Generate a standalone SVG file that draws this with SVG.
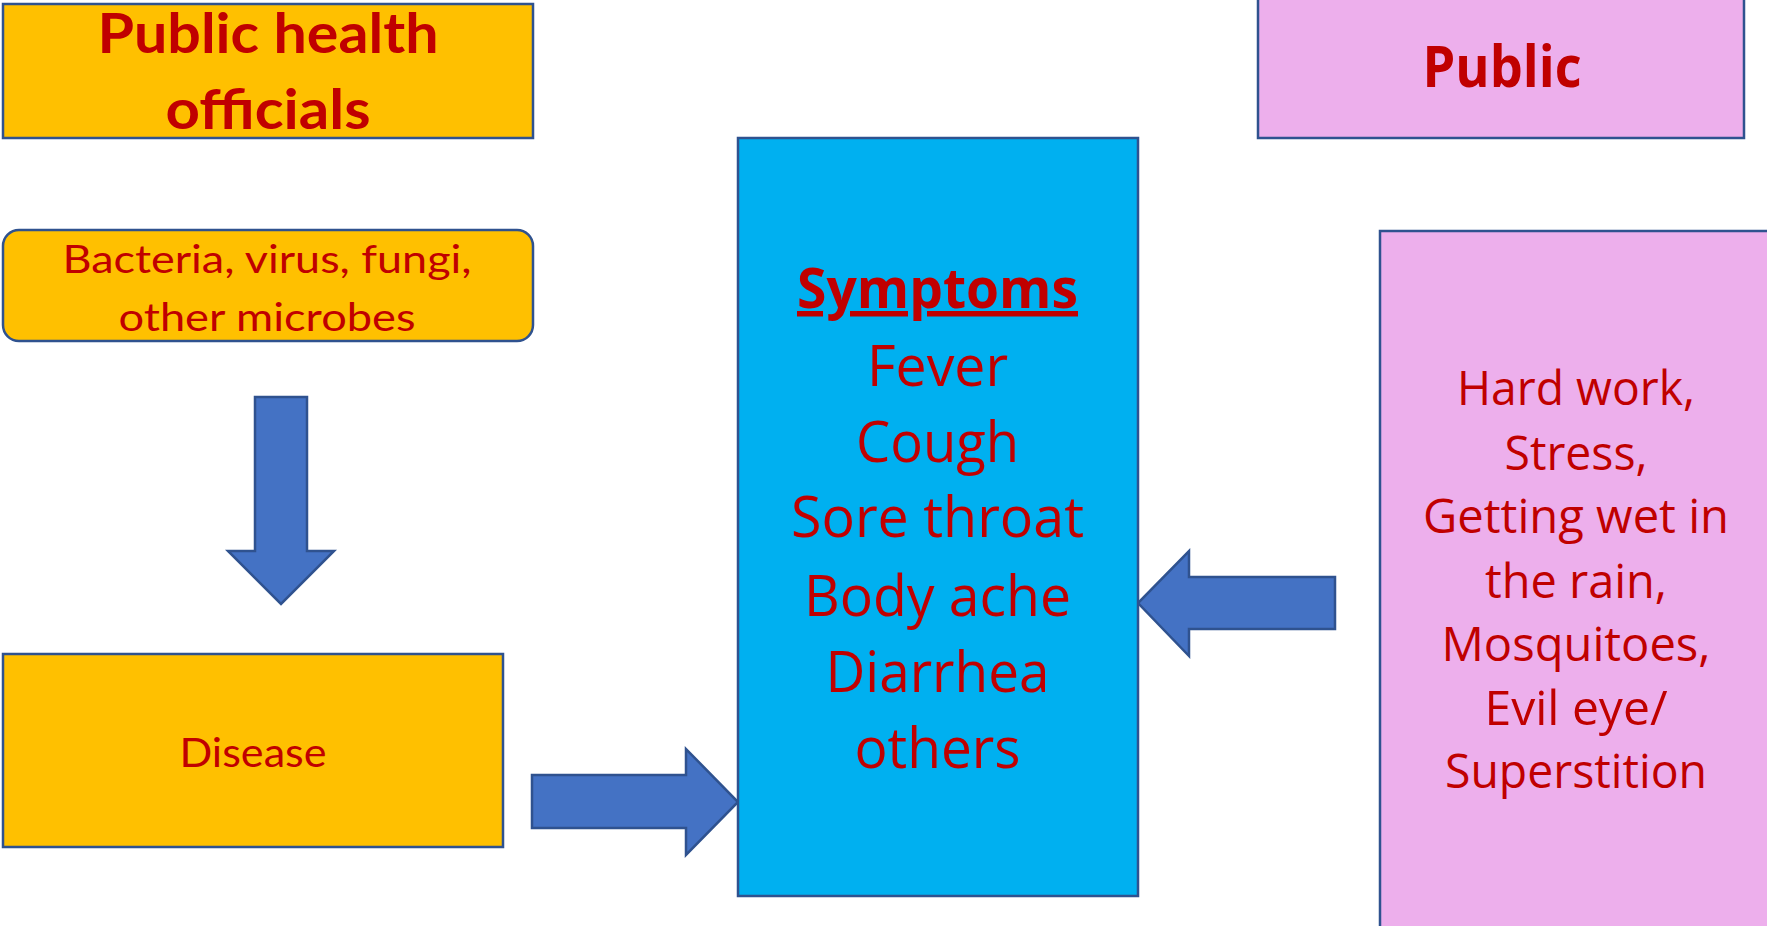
<svg xmlns="http://www.w3.org/2000/svg" width="1767" height="926" viewBox="0 0 1767 926">
<style>
.box{stroke:#2F528F;stroke-width:2.5}
.orange{fill:#FFC000}
.blue{fill:#00B0F0}
.pink{fill:#EDAFEC}
.arrow{fill:#4472C4;stroke:#2F528F;stroke-width:2.5;stroke-linejoin:miter}
.t{fill:#C00000;text-anchor:middle}
.cal{font-family:Lato,"Liberation Sans",sans-serif}
.wide{font-family:"Open Sans","DejaVu Sans",sans-serif}
.b{font-weight:bold}
</style>
<rect width="1767" height="926" fill="#FFFFFF"/>
<g id="connectors">
<polygon class="arrow" points="255,397 307,397 307,551 334,551 281,604 228,551 255,551"/>
<polygon class="arrow" points="532,775 686,775 686,749 738,802 686,855 686,828 532,828"/>
<polygon class="arrow" points="1335,577 1189,577 1189,551 1138,603 1189,656 1189,629 1335,629"/>
</g>
<g id="public-health-officials">
<rect class="box orange" x="3" y="4" width="530" height="134"/>
<text class="t cal b" x="268" y="53" font-size="56" textLength="341" lengthAdjust="spacingAndGlyphs">Public health</text>
<text class="t cal b" x="268" y="129" font-size="56" textLength="205" lengthAdjust="spacingAndGlyphs">officials</text>
</g>
<g id="microbes">
<rect class="box orange" x="3" y="230" width="530" height="111" rx="16" ry="16"/>
<text class="t cal" x="267" y="273" font-size="39" textLength="409" lengthAdjust="spacingAndGlyphs">Bacteria, virus, fungi,</text>
<text class="t cal" x="267" y="331" font-size="39" textLength="297" lengthAdjust="spacingAndGlyphs">other microbes</text>
</g>
<g id="disease">
<rect class="box orange" x="3" y="654" width="500" height="193"/>
<text class="t cal" x="253" y="767" font-size="41" textLength="147" lengthAdjust="spacingAndGlyphs">Disease</text>
</g>
<g id="symptoms">
<rect class="box blue" x="738" y="138" width="400" height="758"/>
<text class="t wide b" x="937.5" y="308" font-size="55" textLength="281" lengthAdjust="spacingAndGlyphs" text-decoration="underline">Symptoms</text>
<text class="t wide" x="937.5" y="386" font-size="56" textLength="141" lengthAdjust="spacingAndGlyphs">Fever</text>
<text class="t wide" x="937.5" y="462" font-size="56" textLength="163" lengthAdjust="spacingAndGlyphs">Cough</text>
<text class="t wide" x="937.5" y="537" font-size="56" textLength="293" lengthAdjust="spacingAndGlyphs">Sore throat</text>
<text class="t wide" x="937.5" y="616" font-size="56" textLength="267" lengthAdjust="spacingAndGlyphs">Body ache</text>
<text class="t wide" x="937.5" y="692" font-size="56" textLength="224" lengthAdjust="spacingAndGlyphs">Diarrhea</text>
<text class="t wide" x="937.5" y="768" font-size="56" textLength="166" lengthAdjust="spacingAndGlyphs">others</text>
</g>
<g id="public">
<rect class="box pink" x="1258" y="-3" width="486" height="141"/>
<text class="t wide b" x="1502" y="87" font-size="57" textLength="159" lengthAdjust="spacingAndGlyphs">Public</text>
</g>
<g id="public-beliefs">
<rect class="box pink" x="1380" y="231" width="392" height="700"/>
<text class="t wide" x="1576" y="405" font-size="48" textLength="238" lengthAdjust="spacingAndGlyphs">Hard work,</text>
<text class="t wide" x="1576" y="470" font-size="48" textLength="143" lengthAdjust="spacingAndGlyphs">Stress,</text>
<text class="t wide" x="1576" y="533" font-size="48" textLength="306" lengthAdjust="spacingAndGlyphs">Getting wet in</text>
<text class="t wide" x="1576" y="598" font-size="48" textLength="182" lengthAdjust="spacingAndGlyphs">the rain,</text>
<text class="t wide" x="1576" y="661" font-size="48" textLength="269" lengthAdjust="spacingAndGlyphs">Mosquitoes,</text>
<text class="t wide" x="1576" y="725" font-size="48" textLength="183" lengthAdjust="spacingAndGlyphs">Evil eye/</text>
<text class="t wide" x="1576" y="788" font-size="48" textLength="262" lengthAdjust="spacingAndGlyphs">Superstition</text>
</g>
</svg>
